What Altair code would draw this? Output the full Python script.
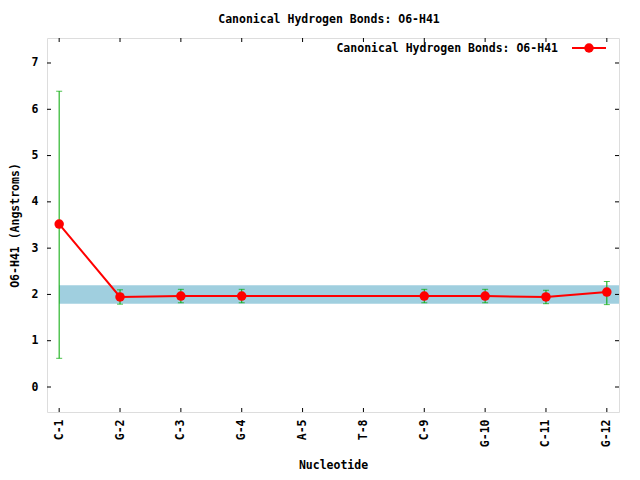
import altair as alt
import pandas as pd

# ---- data ----
nucleotides = ["C-1", "G-2", "C-3", "G-4", "A-5", "T-8", "C-9", "G-10", "C-11", "G-12"]
distance = [3.52, 1.945, 1.965, 1.965, None, None, 1.965, 1.965, 1.945, 2.05]
err_low = [0.62, 1.79, 1.82, 1.82, None, None, 1.82, 1.82, 1.80, 1.78]
err_high = [6.39, 2.10, 2.11, 2.11, None, None, 2.11, 2.11, 2.09, 2.28]
band_range = [1.8, 2.2]
y_tick_values = [0, 1, 2, 3, 4, 5, 6, 7]
title_text = "Canonical Hydrogen Bonds: O6-H41"

FONT = "DejaVu Sans Mono"
FS = 11.5
W, H = 572, 374

rows = []
for i, (n, v, lo, hi) in enumerate(zip(nucleotides, distance, err_low, err_high)):
    if v is not None:
        rows.append({"idx": i, "name": n, "val": v, "lo": lo, "hi": hi})
df = pd.DataFrame(rows)

band_df = pd.DataFrame({"x0": [0], "x1": [len(nucleotides) - 0.8],
                        "y0": [band_range[0]], "y1": [band_range[1]]})
xt_df = pd.DataFrame({"idx": list(range(len(nucleotides)))})
yt_df = pd.DataFrame({"yv": y_tick_values})

xscale = alt.Scale(domain=[-0.2, 9.2], nice=False, zero=False)
yscale = alt.Scale(domain=[-0.54, 7.54], nice=False, zero=False)

label_arr = "[" + ",".join("'%s'" % n for n in nucleotides) + "]"

xaxis = alt.Axis(values=list(range(len(nucleotides))),
                 labelExpr=label_arr + "[datum.value]",
                 labelAngle=270, labelAlign="right", labelBaseline="middle",
                 ticks=False, domain=False, grid=False, labelPadding=7,
                 title="Nucleotide", titlePadding=13,
                 labelFont=FONT, labelFontSize=FS, labelFontWeight="bold",
                 titleFont=FONT, titleFontSize=FS, titleFontWeight="bold",
                 labelColor="black", titleColor="black")
yaxis = alt.Axis(values=y_tick_values, ticks=False, domain=False, grid=False,
                 labelPadding=9, title="O6-H41 (Angstroms)", titlePadding=11,
                 labelFont=FONT, labelFontSize=FS, labelFontWeight="bold",
                 titleFont=FONT, titleFontSize=FS, titleFontWeight="bold",
                 labelColor="black", titleColor="black")

band = alt.Chart(band_df).mark_rect(color="#a0cfdf", clip=True).encode(
    x=alt.X("x0:Q", scale=xscale, axis=xaxis),
    x2="x1:Q",
    y=alt.Y("y0:Q", scale=yscale, axis=yaxis),
    y2="y1:Q",
)

base = alt.Chart(df).encode(x=alt.X("idx:Q", scale=xscale))

line = base.mark_line(color="#ff0000", strokeWidth=2).encode(
    y=alt.Y("val:Q", scale=yscale))

GREEN = "#00a800"
errbar = base.mark_rule(color=GREEN, strokeWidth=1).encode(
    y=alt.Y("lo:Q", scale=yscale), y2="hi:Q")
cap_lo = base.mark_tick(orient="horizontal", color=GREEN, size=6, thickness=1).encode(
    y=alt.Y("lo:Q", scale=yscale))
cap_hi = base.mark_tick(orient="horizontal", color=GREEN, size=6, thickness=1).encode(
    y=alt.Y("hi:Q", scale=yscale))

pts = base.mark_point(filled=True, shape="circle", size=90, color="#ff0000", opacity=1).encode(
    y=alt.Y("val:Q", scale=yscale))

# inward ticks on all four sides
xt = alt.Chart(xt_df)
xt_bot = xt.mark_rule(color="black").encode(
    x=alt.X("idx:Q", scale=xscale), y=alt.value(H - 4), y2=alt.value(H))
xt_top = xt.mark_rule(color="black").encode(
    x=alt.X("idx:Q", scale=xscale), y=alt.value(0), y2=alt.value(4))
yt = alt.Chart(yt_df)
yt_left = yt.mark_rule(color="black").encode(
    y=alt.Y("yv:Q", scale=yscale), x=alt.value(0), x2=alt.value(4))
yt_right = yt.mark_rule(color="black").encode(
    y=alt.Y("yv:Q", scale=yscale), x=alt.value(W - 4), x2=alt.value(W))

# legend (key)
leg_text = alt.Chart(pd.DataFrame({"t": [title_text]})).mark_text(
    font=FONT, fontSize=FS, fontWeight="bold", align="right", baseline="middle",
    color="black").encode(text="t:N", x=alt.value(511), y=alt.value(10.5))
leg_line = alt.Chart(pd.DataFrame({"a": [0]})).mark_rule(color="#ff0000", strokeWidth=2).encode(
    x=alt.value(525), x2=alt.value(559), y=alt.value(10))
leg_pt = alt.Chart(pd.DataFrame({"a": [0]})).mark_point(
    filled=True, shape="circle", size=90, color="#ff0000", opacity=1).encode(
    x=alt.value(542), y=alt.value(10))

chart = alt.layer(band, line, errbar, cap_lo, cap_hi, pts,
                  xt_bot, xt_top, yt_left, yt_right,
                  leg_text, leg_line, leg_pt).properties(
    width=W, height=H,
    title=alt.TitleParams(title_text, font=FONT, fontSize=FS, fontWeight="bold",
                          anchor="middle", offset=12, dx=-4, color="black"),
    autosize=alt.AutoSizeParams(type="none"),
    padding={"left": 39, "top": 30, "right": 13, "bottom": 59},
).configure_view(stroke="black", strokeWidth=1).configure(background="white")

chart.save("out.html", embed_options={"renderer": "svg", "actions": False})
